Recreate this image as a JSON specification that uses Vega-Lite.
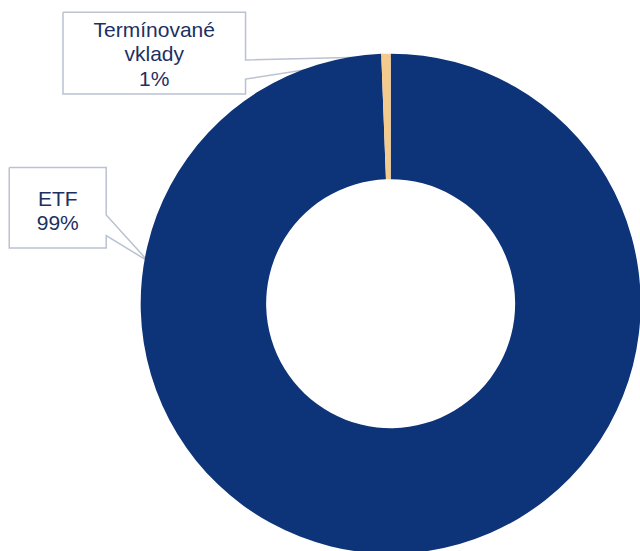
{
  "$schema": "https://vega.github.io/schema/vega-lite/v6.json",
  "width": 640,
  "height": 551,
  "autosize": {"type": "fit", "contains": "padding"},
  "padding": 0,
  "background": "white",
  "config": {"view": {"stroke": null}},
  "datasets": {
    "shares": [
      {"category": "ETF", "value": 99.4},
      {"category": "Termínované vklady", "value": 0.6}
    ],
    "callouts": [
      {"callout": "Termínované vklady", "pt": 1, "u": -1.3168, "v": 1.1788},
      {"callout": "Termínované vklady", "pt": 2, "u": -0.5832, "v": 1.1788},
      {"callout": "Termínované vklady", "pt": 3, "u": -0.5832, "v": 0.9852},
      {"callout": "Termínované vklady", "pt": 4, "u": 0.0032, "v": 1.0},
      {"callout": "Termínované vklady", "pt": 5, "u": -0.5832, "v": 0.908},
      {"callout": "Termínované vklady", "pt": 6, "u": -0.5832, "v": 0.848},
      {"callout": "Termínované vklady", "pt": 7, "u": -1.3168, "v": 0.848},
      {"callout": "Termínované vklady", "pt": 8, "u": -1.3168, "v": 1.1788},
      {"callout": "ETF", "pt": 1, "u": -1.5328, "v": 0.5508},
      {"callout": "ETF", "pt": 2, "u": -1.1432, "v": 0.5508},
      {"callout": "ETF", "pt": 3, "u": -1.1432, "v": 0.3588},
      {"callout": "ETF", "pt": 4, "u": -0.975, "v": 0.172},
      {"callout": "ETF", "pt": 5, "u": -1.1432, "v": 0.2748},
      {"callout": "ETF", "pt": 6, "u": -1.1432, "v": 0.2252},
      {"callout": "ETF", "pt": 7, "u": -1.5328, "v": 0.2252},
      {"callout": "ETF", "pt": 8, "u": -1.5328, "v": 0.5508}
    ],
    "labels": [
      {"label": "Termínované\nvklady\n1%", "u": -0.95, "v": 1.104},
      {"label": "ETF\n99%", "u": -1.338, "v": 0.42}
    ]
  },
  "layer": [
    {
      "data": {"name": "callouts"},
      "mark": {"type": "line", "stroke": "#BAC1D1", "strokeWidth": 1.5, "strokeJoin": "miter"},
      "encoding": {
        "x": {"field": "u", "type": "quantitative", "axis": null, "scale": {"domain": [-1.57, 0.99], "nice": false, "zero": false}},
        "y": {"field": "v", "type": "quantitative", "axis": null, "scale": {"domain": [-0.976, 1.228], "nice": false, "zero": false}},
        "detail": {"field": "callout", "type": "nominal"},
        "order": {"field": "pt", "type": "quantitative"}
      }
    },
    {
      "data": {"name": "shares"},
      "mark": {"type": "arc", "outerRadius": 250, "innerRadius": 124.5},
      "encoding": {
        "x": {"datum": 0, "type": "quantitative", "axis": null, "scale": {"domain": [-1.57, 0.99], "nice": false, "zero": false}},
        "y": {"datum": 0, "type": "quantitative", "axis": null, "scale": {"domain": [-0.976, 1.228], "nice": false, "zero": false}},
        "theta": {"field": "value", "type": "quantitative", "stack": true},
        "color": {"field": "category", "type": "nominal", "legend": null, "scale": {"domain": ["ETF", "Termínované vklady"], "range": ["#0D3378", "#F5CA8D"]}}
      }
    },
    {
      "data": {"name": "labels"},
      "mark": {"type": "text", "font": "Liberation Sans", "fontSize": 21, "lineHeight": 24.5, "lineBreak": "\n", "align": "center", "baseline": "middle", "color": "#1C3062"},
      "encoding": {
        "x": {"field": "u", "type": "quantitative", "axis": null, "scale": {"domain": [-1.57, 0.99], "nice": false, "zero": false}},
        "y": {"field": "v", "type": "quantitative", "axis": null, "scale": {"domain": [-0.976, 1.228], "nice": false, "zero": false}},
        "text": {"field": "label", "type": "nominal"}
      }
    }
  ]
}
